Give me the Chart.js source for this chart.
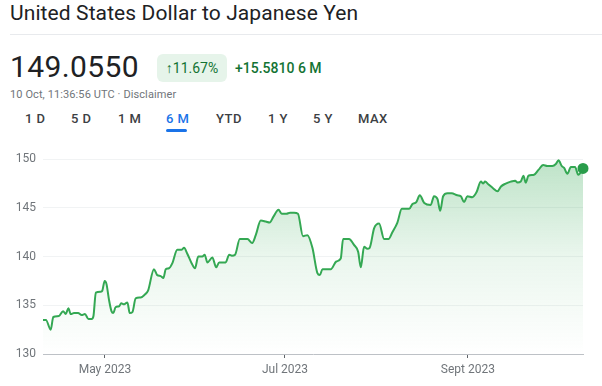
<!DOCTYPE html>
<html>
<head>
<meta charset="utf-8">
<script src="https://cdn.jsdelivr.net/npm/chart.js@4.4.0/dist/chart.umd.min.js"></script>
<style>
  body { margin: 0; width: 602px; height: 386px; background: #fff; font-family: Roboto, Arial, sans-serif; position: relative; overflow: hidden; }
  .title { position: absolute; left: 10px; top: 1px; font-size: 21px; color: #202124; white-space: nowrap; letter-spacing: 0.1px; }
  .sep { position: absolute; left: 10px; right: 0; top: 34px; height: 1px; background: #e8eaed; }
  .price { position: absolute; left: 10px; top: 49px; font-size: 30px; color: #202124; letter-spacing: 0.4px; }
  .badge { position: absolute; left: 157px; top: 54px; width: 70px; height: 28px; border-radius: 6px; background: #e6f4ea; color: #137333; font-size: 14px; line-height: 28px; text-align: center; }
  .badge b { font-weight: 700; }
  .change { position: absolute; left: 235px; top: 54px; line-height: 28px; font-size: 14px; color: #137333; font-weight: 500; }
  .stamp { position: absolute; left: 10px; top: 88px; font-size: 11px; color: #70757a; letter-spacing: 0.1px; }
  .tab { position: absolute; top: 111px; font-size: 13px; color: #3c4043; font-weight: 500; letter-spacing: 0.5px; }
  .tab.on { color: #1a73e8; }
  .uline { position: absolute; left: 166px; top: 129px; width: 21px; height: 3px; background: #1a73e8; border-radius: 2px; }
  #box { position: absolute; left: 0; top: 145px; width: 602px; height: 241px; }
</style>
</head>
<body>
<div class="title">United States Dollar to Japanese Yen</div>
<div class="sep"></div>
<div class="price">149.0550</div>
<div class="badge"><b>↑</b>11.67%</div>
<div class="change">+15.5810 6 M</div>
<div class="stamp">10 Oct, 11:36:56 UTC · Disclaimer</div>
<span class="tab" style="left:25px">1 D</span>
<span class="tab" style="left:71px">5 D</span>
<span class="tab" style="left:118px">1 M</span>
<span class="tab on" style="left:166px">6 M</span>
<span class="tab" style="left:216px">YTD</span>
<span class="tab" style="left:268px">1 Y</span>
<span class="tab" style="left:313px">5 Y</span>
<span class="tab" style="left:358px">MAX</span>
<div class="uline"></div>
<div id="box"><canvas id="chart" width="602" height="241"></canvas></div>
<script>
// days since 10 Apr 2023
const days = [0, 1, 2.6, 3.5, 5.4, 6.8, 7.7, 8.6, 9.4, 10.5,
  11.9, 13.1, 14.2, 15.4, 16.5, 17.1, 17.9, 19.6, 20.1, 20.9,
  21.5, 22.4, 23.2, 23.8, 24.6, 25.8, 26.5, 27.5, 28.6, 29.4,
  30.3, 31.4, 33.1, 34.5, 35.6, 37.6, 38.7, 39.9, 40.8, 41.6,
  42.7, 43.8, 45.5, 46.9, 47.8, 48.9, 50.4, 51.5, 52.6, 54.0,
  54.8, 55.7, 57.4, 58.7, 59.7, 61.9, 63.1, 64.0, 65.1, 66.7,
  69.3, 70.9, 72.1, 73.8, 75.5, 76.8, 78.1, 79.8, 80.9, 82.5,
  83.7, 85.1, 86.4, 88.1, 89.6, 91.3, 93.0, 93.8, 94.7, 97.5,
  99.4, 100.9, 101.7, 103.7, 105.4, 106.8, 107.7, 108.8, 109.9, 110.7,
  112.2, 113.9, 115.6, 117.1, 118.4, 120.1, 121.6, 124.1, 125.2, 126.5,
  127.7, 129.2, 131.4, 132.5, 133.7, 134.6, 135.6, 137.1, 138.5, 140.4,
  141.6, 142.7, 143.8, 145.5, 146.9, 148.4, 149.2, 149.8, 151.0, 152.6,
  154.0, 155.2, 156.8, 158.5, 160.0, 160.8, 161.9, 162.8, 163.6, 164.5,
  166.4, 167.9, 169.5, 170.9, 172.6, 173.8, 174.7, 175.8, 176.6, 177.7,
  178.9, 180.3, 181.4, 183];

const rates = [133.5, 133.5, 132.5, 133.8, 133.9, 134.4, 134.1, 134.7, 134.1, 134.2,
  134.2, 134.0, 134.1, 133.6, 133.6, 133.9, 136.3, 136.4, 136.5, 137.5,
  137.2, 135.5, 134.4, 134.2, 134.8, 134.9, 135.2, 135.1, 135.3, 134.2,
  134.3, 135.7, 135.8, 136.1, 136.5, 138.7, 138.1, 138.0, 137.8, 138.7,
  138.8, 139.3, 140.7, 140.7, 140.9, 140.3, 139.3, 138.8, 140.0, 140.0,
  140.2, 139.4, 139.9, 138.9, 139.4, 139.4, 140.2, 140.1, 140.2, 141.8,
  141.8, 141.4, 142.2, 143.7, 143.6, 143.5, 144.1, 144.8, 144.4, 144.4,
  144.5, 144.5, 144.4, 142.1, 142.2, 140.9, 138.3, 138.1, 138.7, 138.7,
  139.5, 139.8, 141.8, 141.8, 141.2, 140.5, 138.9, 141.0, 140.8, 140.9,
  142.9, 143.4, 141.8, 141.8, 142.5, 143.5, 144.9, 144.9, 145.4, 145.6,
  146.3, 145.5, 145.3, 146.2, 145.9, 144.7, 146.2, 146.5, 146.5, 146.3,
  146.2, 145.6, 146.2, 146.1, 146.6, 147.7, 147.5, 147.7, 147.4, 147.0,
  146.7, 147.2, 147.5, 147.7, 147.8, 147.6, 147.7, 148.3, 147.6, 148.3,
  148.4, 148.9, 149.4, 149.3, 149.3, 149.5, 149.9, 149.3, 149.1, 148.5,
  149.2, 149.2, 148.4, 149.055];

const tickDays = [21, 82, 144];
const tickLabels = ["May 2023", "Jul 2023", "Sept 2023"];
const yTicks = [130, 135, 140, 145, 150];

const points = days.map((d, i) => ({ x: d, y: rates[i] }));
const last = points.length - 1;

function fillGradient(ctx) {
    const area = ctx.chart.chartArea;
    if (!area) return "rgba(52,168,83,0.1)";
    const g = ctx.chart.ctx.createLinearGradient(0, area.top, 0, area.bottom);
    g.addColorStop(0, "rgba(52,168,83,0.32)");
    g.addColorStop(0.5, "rgba(52,168,83,0.1)");
    g.addColorStop(1, "rgba(52,168,83,0)");
    return g;
}

new Chart(document.getElementById("chart"), {
    type: "line",
    data: {
        datasets: [{
            data: points,
            borderColor: "#34a853",
            borderWidth: 2,
            fill: "start",
            backgroundColor: fillGradient,
            cubicInterpolationMode: "monotone",
            pointRadius: ctx => ctx.dataIndex === last ? 4.5 : 0,
            pointBackgroundColor: "#2a9d4b",
            pointBorderColor: "#2a9d4b",
            clip: false
        }]
    },
    options: {
        responsive: false,
        devicePixelRatio: 1,
        animation: false,
        layout: { padding: { top: 11, right: 19, left: 0, bottom: 0 } },
        plugins: { legend: { display: false }, tooltip: { enabled: false } },
        scales: {
            x: {
                type: "linear",
                min: 0,
                max: 183,
                afterBuildTicks: s => { s.ticks = tickDays.map(v => ({ value: v })); },
                afterFit: s => { s.height = 32; },
                ticks: {
                    autoSkip: false,
                    maxRotation: 0,
                    color: "#70757a",
                    font: { family: "Roboto", size: 12 },
                    padding: 5,
                    callback: v => tickLabels[tickDays.indexOf(v)]
                },
                grid: { drawOnChartArea: false, drawTicks: true, tickLength: 4, tickColor: "#5f6368" },
                border: { color: "#bdc1c6" }
            },
            y: {
                min: 130,
                max: 150,
                afterBuildTicks: s => { s.ticks = yTicks.map(v => ({ value: v })); },
                afterFit: s => { s.width = 43; },
                ticks: { color: "#70757a", font: { family: "Roboto", size: 12 }, padding: 7 },
                grid: {
                    drawTicks: false,
                    color: ctx => ctx.tick && ctx.tick.value === 130 ? "rgba(0,0,0,0)" : "#f1f3f4"
                },
                border: { display: false }
            }
        }
    }
});
</script>
</body>
</html>
